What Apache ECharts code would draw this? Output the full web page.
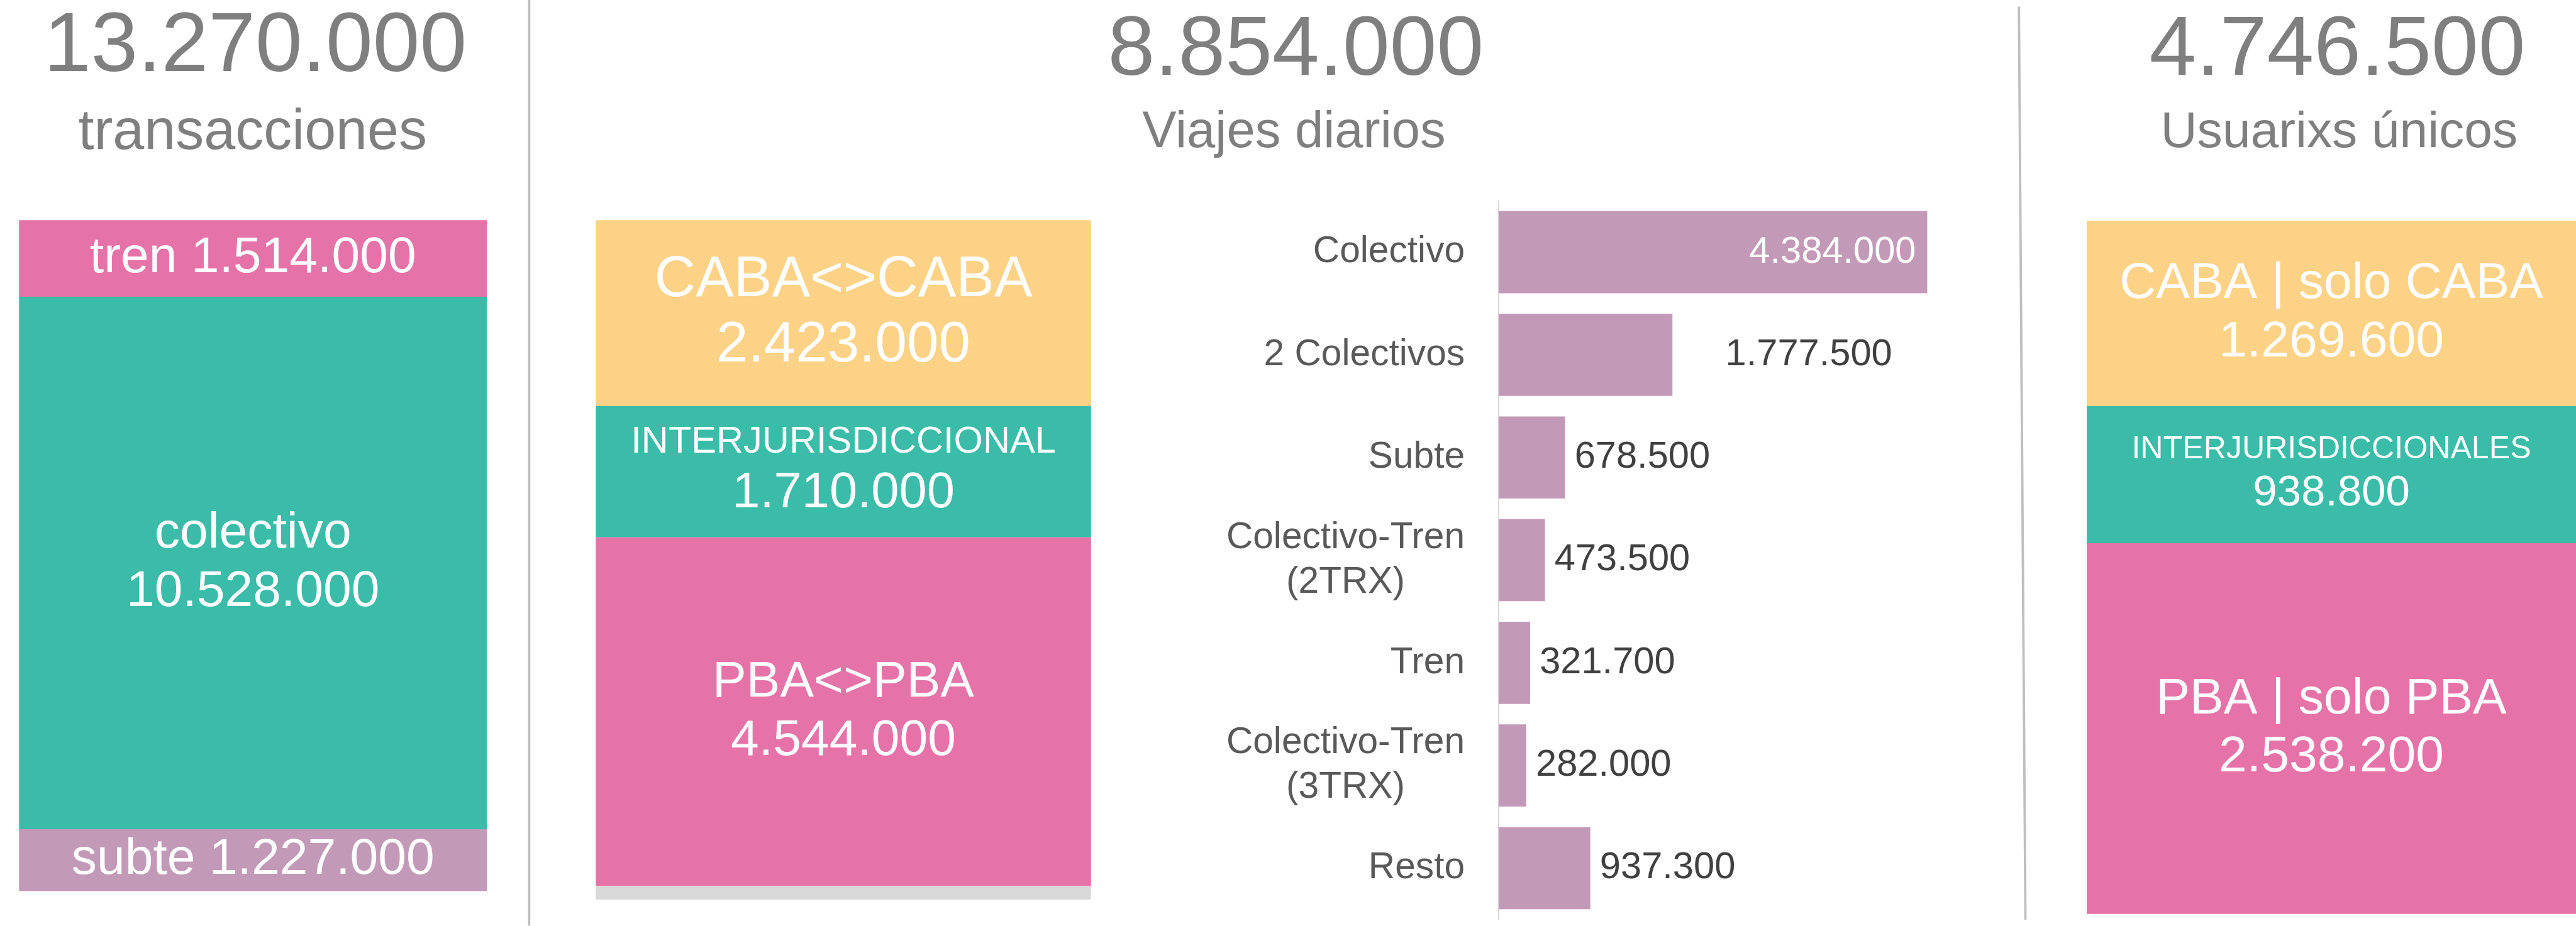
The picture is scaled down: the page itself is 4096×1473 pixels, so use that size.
<!DOCTYPE html>
<html><head><meta charset="utf-8">
<script src="https://cdn.jsdelivr.net/npm/echarts@6/dist/echarts.min.js"></script>
<style>html,body{margin:0;padding:0;background:#fff}#c{width:4096px;height:1473px}</style>
</head><body><div id="c"></div>
<script>
// ---------- DATA ----------
const transTotal = 13270000;
const transLabels = ['tren', 'colectivo', 'subte'];
const transValues = [1514000, 10528000, 1227000];

const viajesTotal = 8854000;
const viajesLabels = ['CABA<>CABA', 'INTERJURISDICCIONAL', 'PBA<>PBA'];
const viajesValues = [2423000, 1710000, 4544000];

const usuariosTotal = 4746500;
const usuariosLabels = ['CABA | solo CABA', 'INTERJURISDICCIONALES', 'PBA | solo PBA'];
const usuariosValues = [1269600, 938800, 2538200];

const modoCategories = ['Colectivo', '2 Colectivos', 'Subte', 'Colectivo-Tren\n(2TRX)', 'Tren', 'Colectivo-Tren\n(3TRX)', 'Resto'];
const modoValues = [4384000, 1777500, 678500, 473500, 321700, 282000, 937300];

const headlineTotals = [transTotal, viajesTotal, usuariosTotal];
const headlineTexts = ['transacciones', 'Viajes diarios', 'Usuarixs únicos'];

// ---------- STYLE / LAYOUT ----------
const S = 4096 / 4328;
const FF = '"Liberation Sans", Arial, Helvetica, sans-serif';
const PINK = '#E573A8', TEAL = '#3ABCA8', YELLOW = '#FCD287', MAUVE = '#C399B8', REST = '#D9D9D9';
const fmt = v => String(v).replace(/\B(?=(\d{3})+(?!\d))/g, '.');

const grids = [
  {left: 32, top: 370, width: 786, height: 1128},
  {left: 1001, top: 370, width: 832, height: 1142},
  {left: 2518, top: 337.5, width: 720, height: 1208},
  {left: 3506, top: 371, width: 822, height: 1165}
].map(g => ({left: g.left * S, top: g.top * S, width: g.width * S, height: g.height * S}));

const transStyles = [
  {single: true, a: 85, la: 98},
  {a: 85, la: 98, b: 85, lb: 98},
  {single: true, a: 85, la: 98}
];
const viajesStyles = [
  {a: 96, la: 110, b: 96, lb: 110},
  {a: 63, la: 74, b: 84, lb: 98},
  {a: 85, la: 98, b: 85, lb: 98}
];
const usuariosStyles = [
  {a: 85, la: 98, b: 85, lb: 98},
  {a: 53, la: 63.6, b: 73, lb: 84.4},
  {a: 85, la: 98, b: 85, lb: 98}
];

function stackSeries(idx, labels, values, total, colors, styles) {
  const out = [];
  labels.forEach((name, i) => {
    const st = styles[i];
    const v = values[i];
    out.push({
      type: 'bar', name: name, xAxisIndex: idx, yAxisIndex: idx, stack: 'st' + idx,
      data: [v], barWidth: '100%', itemStyle: {color: colors[i]}, silent: true,
      label: {
        show: true, position: 'inside', color: '#fff',
        formatter: () => st.single ? '{a|' + name + ' ' + fmt(v) + '}' : '{a|' + name + '}\n{b|' + fmt(v) + '}',
        rich: {
          a: {fontSize: st.a * S, lineHeight: st.la * S, color: '#fff', fontFamily: FF, align: 'center'},
          b: {fontSize: (st.b || st.a) * S, lineHeight: (st.lb || st.la) * S, color: '#fff', fontFamily: FF, align: 'center'}
        }
      }
    });
  });
  const sum = values.reduce((a, b) => a + b, 0);
  const rest = total - sum;
  if (rest > 0) {
    out.push({type: 'bar', name: 'resto', xAxisIndex: idx, yAxisIndex: idx, stack: 'st' + idx,
      data: [rest], barWidth: '100%', itemStyle: {color: REST}, silent: true, label: {show: false}});
  }
  return out;
}

const sumU = usuariosValues.reduce((a, b) => a + b, 0);
const series = [].concat(
  stackSeries(0, transLabels, transValues, transTotal, [PINK, TEAL, MAUVE], transStyles),
  stackSeries(1, viajesLabels, viajesValues, viajesTotal, [YELLOW, TEAL, PINK], viajesStyles),
  stackSeries(3, usuariosLabels, usuariosValues, usuariosTotal, [YELLOW, TEAL, PINK], usuariosStyles),
  [{
    type: 'bar', xAxisIndex: 2, yAxisIndex: 2, barCategoryGap: '20%', silent: true,
    itemStyle: {color: MAUVE},
    data: modoValues.map((v, i) => {
      if (i === 0) return {value: v, label: {position: 'insideRight', color: '#fff', distance: 19 * S}};
      if (i === 1) return {value: v, label: {offset: [73 * S, 0]}};
      return {value: v};
    }),
    label: {show: true, position: 'right', distance: 16 * S, fontSize: 63 * S, fontFamily: FF,
      color: '#404040', formatter: p => fmt(p.value)}
  }]
);

const hiddenCat = g => ({type: 'category', gridIndex: g, data: [''], show: false});
const hiddenVal = (g, max) => ({type: 'value', gridIndex: g, min: 0, max: max, inverse: true, show: false});

const option = {
  animation: false,
  backgroundColor: '#fff',
  grid: grids,
  xAxis: [
    hiddenCat(0), hiddenCat(1),
    {type: 'value', gridIndex: 2, min: 0, max: Math.max(...modoValues), show: false},
    hiddenCat(3)
  ],
  yAxis: [
    hiddenVal(0, transTotal),
    hiddenVal(1, viajesTotal),
    {
      type: 'category', gridIndex: 2, data: modoCategories, inverse: true,
      axisLine: {show: true, lineStyle: {color: '#D9D9D9', width: 2 * S}},
      axisTick: {show: false}, splitLine: {show: false},
      axisLabel: {
        interval: 0, margin: 57 * S, color: '#595959', fontFamily: FF, fontSize: 62 * S,
        formatter: v => v.split('\n').map(l => '{c|' + l + '}').join('\n'),
        rich: {c: {align: 'center', fontSize: 62 * S, lineHeight: 75 * S, color: '#595959', fontFamily: FF}}
      }
    },
    hiddenVal(3, Math.max(usuariosTotal, sumU))
  ],
  series: series,
  graphic: [
    {type: 'line', silent: true, shape: {x1: 889 * S, y1: 0, x2: 889 * S, y2: 1556 * S}, style: {stroke: '#BFBFBF', lineWidth: 4 * S}},
    {type: 'line', silent: true, shape: {x1: 3392 * S, y1: 11 * S, x2: 3403 * S, y2: 1546 * S}, style: {stroke: '#BFBFBF', lineWidth: 4 * S}},
    {type: 'text', x: 429 * S, y: 80.5 * S, style: {text: fmt(headlineTotals[0]), font: (142 * S) + 'px ' + FF, fill: '#7F7F7F', align: 'center', verticalAlign: 'middle'}},
    {type: 'text', x: 2177 * S, y: 87 * S, style: {text: fmt(headlineTotals[1]), font: (142 * S) + 'px ' + FF, fill: '#7F7F7F', align: 'center', verticalAlign: 'middle'}},
    {type: 'text', x: 3927 * S, y: 86.5 * S, style: {text: fmt(headlineTotals[2]), font: (142 * S) + 'px ' + FF, fill: '#7F7F7F', align: 'center', verticalAlign: 'middle'}},
    {type: 'text', x: 424.5 * S, y: 224 * S, style: {text: headlineTexts[0], font: (95 * S) + 'px ' + FF, fill: '#7F7F7F', align: 'center', verticalAlign: 'middle'}},
    {type: 'text', x: 2174 * S, y: 223.5 * S, style: {text: headlineTexts[1], font: (86 * S) + 'px ' + FF, fill: '#7F7F7F', align: 'center', verticalAlign: 'middle'}},
    {type: 'text', x: 3930 * S, y: 223.5 * S, style: {text: headlineTexts[2], font: (85 * S) + 'px ' + FF, fill: '#7F7F7F', align: 'center', verticalAlign: 'middle'}}
  ]
};

const chart = echarts.init(document.getElementById('c'), null, {renderer: 'canvas'});
chart.setOption(option);
</script>
</body></html>
